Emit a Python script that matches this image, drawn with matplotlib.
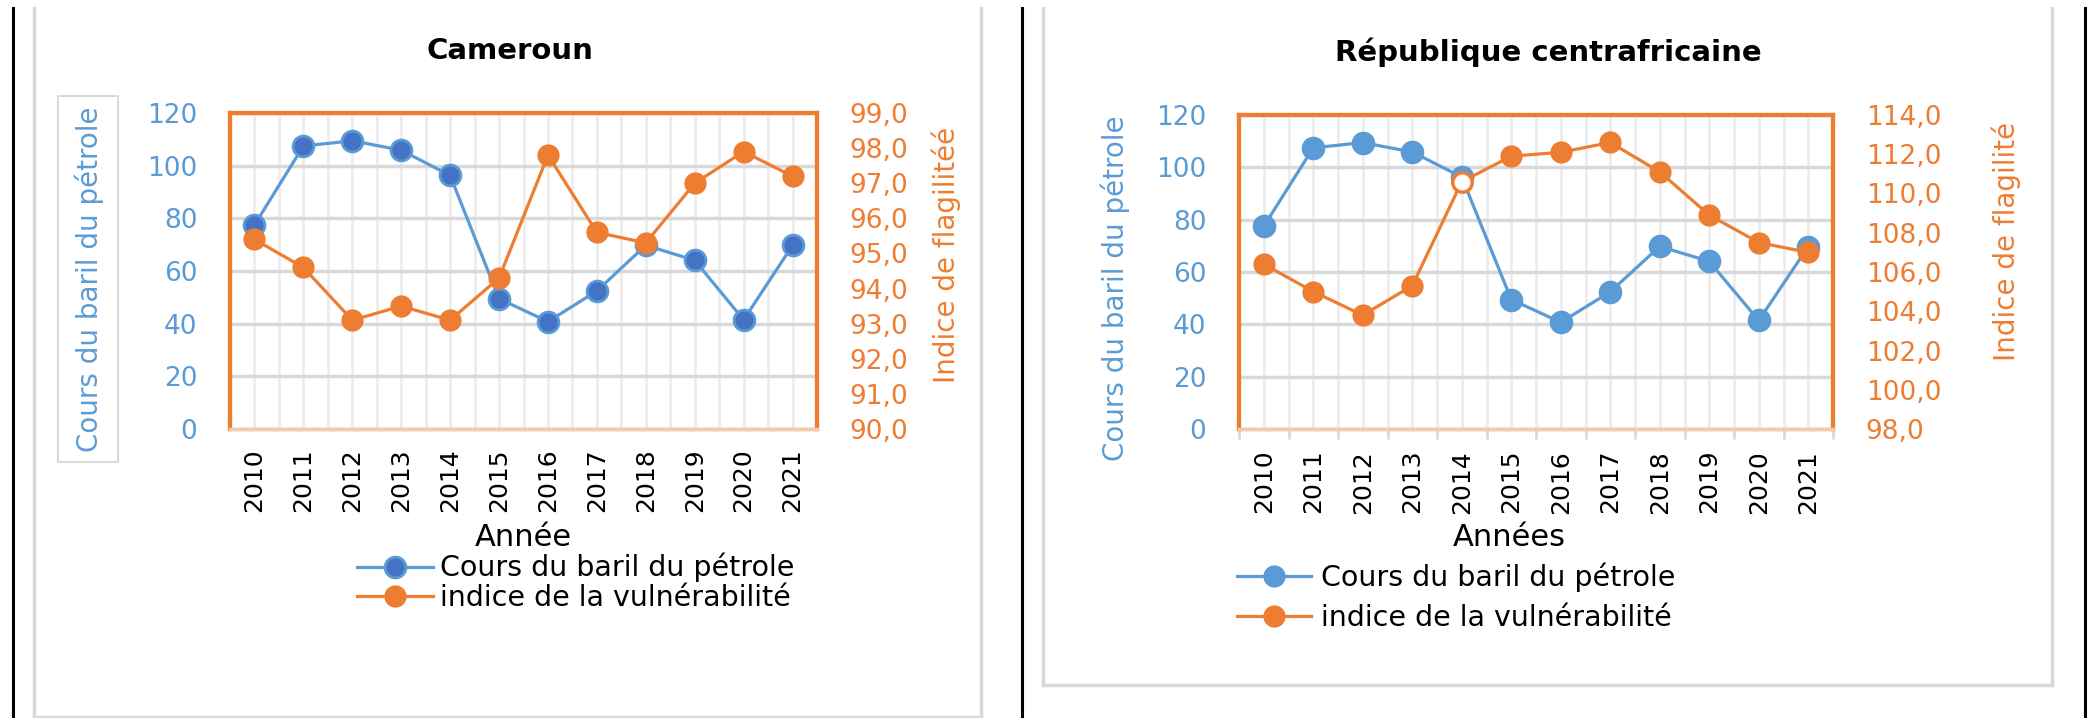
"""Cours du baril du pétrole vs indice de fragilité : Cameroun et RCA."""

import matplotlib

matplotlib.use("Agg")
import matplotlib.pyplot as plt
from matplotlib.lines import Line2D
from matplotlib.patches import Rectangle
from matplotlib.ticker import FuncFormatter, MultipleLocator

YEARS = [2010, 2011, 2012, 2013, 2014, 2015, 2016, 2017, 2018, 2019, 2020, 2021]
OIL = [77.45, 107.46, 109.45, 105.87, 96.29, 49.49, 40.76, 52.43, 69.78, 64.04, 41.47, 69.72]
FSI_CMR = [95.4, 94.6, 93.1, 93.5, 93.1, 94.3, 97.8, 95.6, 95.3, 97.0, 97.9, 97.2]
FSI_CAF = [106.4, 105.0, 103.8, 105.3, 110.6, 111.9, 112.1, 112.6, 111.1, 108.9, 107.5, 107.0]
HOLLOW_YEAR_CAF = 2014

OIL_LABEL = "Cours du baril du pétrole"
FSI_LABEL = "indice de la vulnérabilité"

BLUE = "#5B9BD5"
DARK_BLUE = "#4472C4"
ORANGE = "#ED7D31"
GRID = "#D9D9D9"
VGRID = "#EDEDED"

W, H = 2090, 718
plt.rcParams["font.family"] = ["DejaVu Sans"]


def fx(px):
    return px / W


def fy(py):
    return 1 - py / H


def fig_line(fig, x0, y0, x1, y1, color, lw):
    fig.add_artist(Line2D([fx(x0), fx(x1)], [fy(y0), fy(y1)], color=color, lw=lw,
                          transform=fig.transFigure))


def comma(v, _pos):
    return f"{v:.1f}".replace(".", ",")


def draw_panel(fig, rect, fsi, fsi_lim, fsi_step, dark_markers, hollow_idx, boundary_ticks):
    ax = fig.add_axes(rect)
    tw = ax.twinx()
    xs = list(range(len(YEARS)))

    oil_face = DARK_BLUE if dark_markers else BLUE
    (l1,) = ax.plot(xs, OIL, color=BLUE, lw=2.3, marker="o", ms=15,
                    mfc=oil_face, mec=BLUE, mew=2, label=OIL_LABEL, zorder=3)
    solid = [i for i in xs if i != hollow_idx]
    (l2,) = tw.plot(xs, fsi, color=ORANGE, lw=2.3, marker="o", ms=15,
                    mfc=ORANGE, mec=ORANGE, markevery=solid, label=FSI_LABEL, zorder=3)
    if hollow_idx is not None:
        tw.plot([xs[hollow_idx]], [fsi[hollow_idx]], ls="none", marker="o", ms=14,
                mfc="white", mec=ORANGE, mew=2.5, zorder=4)

    ax.set_xlim(-0.5, len(YEARS) - 0.5)
    ax.set_ylim(0, 120)
    ax.yaxis.set_major_locator(MultipleLocator(20))
    tw.set_ylim(*fsi_lim)
    tw.yaxis.set_major_locator(MultipleLocator(fsi_step))
    tw.yaxis.set_major_formatter(FuncFormatter(comma))

    ax.set_xticks(xs)
    ax.set_xticklabels([str(y) for y in YEARS], rotation=90, fontsize=18)
    ax.set_xticks([i - 0.5 for i in range(len(YEARS) + 1)], minor=True)
    ax.grid(axis="y", color=GRID, lw=2.5)
    ax.grid(axis="x", which="both", color=VGRID, lw=2)
    ax.set_axisbelow(True)

    ax.tick_params(axis="y", length=0, pad=23.5, labelsize=19, labelcolor=BLUE)
    tw.tick_params(axis="y", length=0, pad=23.5, labelsize=19, labelcolor=ORANGE)
    if boundary_ticks:
        ax.tick_params(axis="x", which="major", length=0, pad=15)
        ax.tick_params(axis="x", which="minor", length=7, width=2, color=GRID)
    else:
        ax.tick_params(axis="x", which="both", length=0, pad=14)

    for a in (ax, tw):
        for side in ("left", "top", "right"):
            a.spines[side].set_color(ORANGE)
            a.spines[side].set_linewidth(3)
        a.spines["bottom"].set_color("#F4C9AD")
        a.spines["bottom"].set_linewidth(2.5)
    return ax, [l1, l2]


fig = plt.figure(figsize=(W / 100, H / 100), dpi=100)

# panel frames
fig_line(fig, 13, 8, 13, 718, "black", 2.2)
fig_line(fig, 1022, 8, 1022, 718, "black", 2.2)
fig_line(fig, 2085, 8, 2085, 718, "black", 2.2)
for x0, x1, yb in ((34, 981, 717), (1043, 2052, 685)):
    fig_line(fig, x0, 8, x0, yb, GRID, 2.5)
    fig_line(fig, x1, 8, x1, yb, GRID, 2.5)
    fig_line(fig, x0, yb, x1, yb, GRID, 2.5)

# Cameroun
ax1, h1 = draw_panel(fig, [fx(230), fy(429), fx(817 - 230), (429 - 113) / H],
                     FSI_CMR, (90, 99), 1, True, None, False)
fig.text(fx(510), fy(51), "Cameroun", ha="center", va="center",
         fontsize=21, fontweight="bold")
fig.text(fx(89), fy(279), OIL_LABEL, rotation=90, ha="center", va="center",
         fontsize=20, color=BLUE)
fig.add_artist(Rectangle((fx(58), fy(462)), fx(60), 366 / H, fill=False,
                         ec=GRID, lw=1.5, transform=fig.transFigure))
fig.text(fx(946), fy(255), "Indice de flagilitéé", rotation=90, ha="center",
         va="center", fontsize=20, color=ORANGE)
fig.text(fx(523), fy(537), "Année", ha="center", va="center", fontsize=22)
fig.legend(handles=h1, loc="upper left", bbox_to_anchor=(fx(357), fy(553)),
           frameon=False, fontsize=20.5, handlelength=2.67, handletextpad=0.25,
           labelspacing=0.05, borderpad=0, borderaxespad=0)

# République centrafricaine
hollow = YEARS.index(HOLLOW_YEAR_CAF)
ax2, h2 = draw_panel(fig, [fx(1239), fy(429), fx(1833 - 1239), (429 - 115) / H],
                     FSI_CAF, (98, 114), 2, False, hollow, True)
fig.text(fx(1548), fy(52), "République centrafricaine", ha="center", va="center",
         fontsize=21, fontweight="bold")
fig.text(fx(1115), fy(288), OIL_LABEL, rotation=90, ha="center", va="center",
         fontsize=20, color=BLUE)
fig.text(fx(2006), fy(241), "Indice de flagilité", rotation=90, ha="center",
         va="center", fontsize=20, color=ORANGE)
fig.text(fx(1509), fy(537), "Années", ha="center", va="center", fontsize=22)
leg_handles = [Line2D([], [], color=BLUE, lw=2.3, marker="o", ms=15, mfc=BLUE, mec=BLUE),
               Line2D([], [], color=ORANGE, lw=2.3, marker="o", ms=15, mfc=ORANGE, mec=ORANGE)]
fig.legend(handles=leg_handles, labels=[OIL_LABEL, FSI_LABEL], loc="upper left",
           bbox_to_anchor=(fx(1237), fy(562)), frameon=False, fontsize=20.5,
           handlelength=2.6, handletextpad=0.35, labelspacing=0.45,
           borderpad=0, borderaxespad=0)

fig.savefig("out.png", dpi=100)
